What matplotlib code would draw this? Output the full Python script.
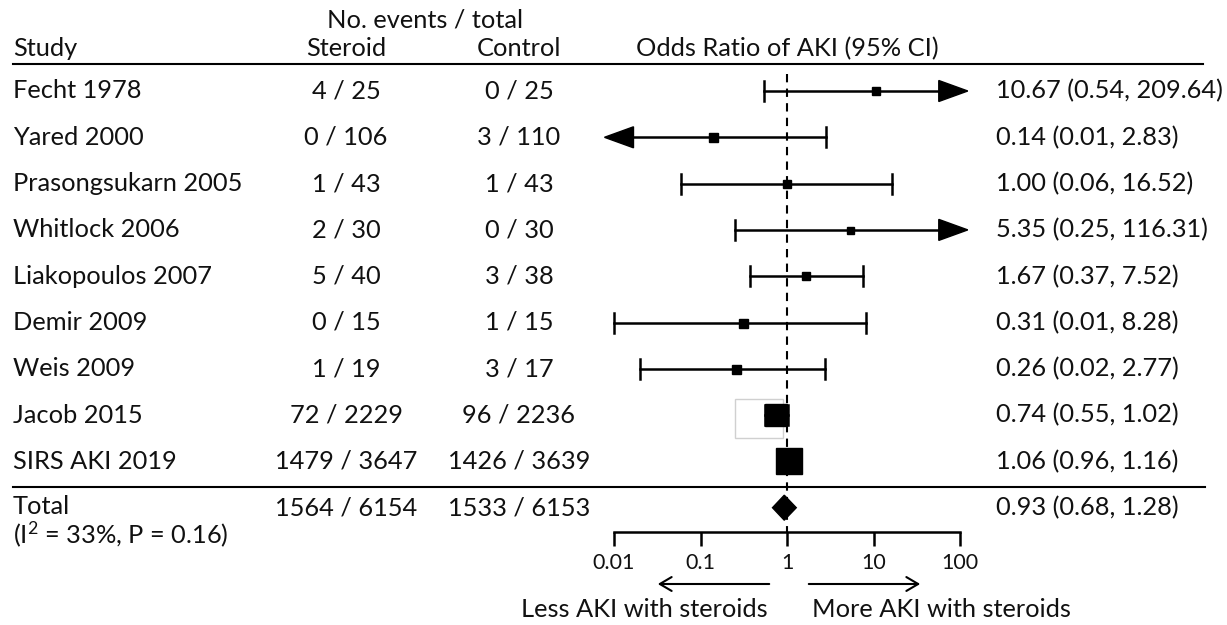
import numpy as np
import matplotlib.pyplot as plt
from matplotlib.patches import Polygon, Rectangle, FancyArrowPatch

studies = ["Fecht 1978", "Yared 2000", "Prasongsukarn 2005", "Whitlock 2006",
           "Liakopoulos 2007", "Demir 2009", "Weis 2009", "Jacob 2015",
           "SIRS AKI 2019"]
steroid_events = [4, 0, 1, 2, 5, 0, 1, 72, 1479]
steroid_total = [25, 106, 43, 30, 40, 15, 19, 2229, 3647]
control_events = [0, 3, 1, 0, 3, 1, 3, 96, 1426]
control_total = [25, 110, 43, 30, 38, 15, 17, 2236, 3639]
odds_ratio = [10.67, 0.14, 1.00, 5.35, 1.67, 0.31, 0.26, 0.74, 1.06]
ci_low = [0.54, 0.01, 0.06, 0.25, 0.37, 0.01, 0.02, 0.55, 0.96]
ci_high = [209.64, 2.83, 16.52, 116.31, 7.52, 8.28, 2.77, 1.02, 1.16]
# interval runs off the axis -> arrow instead of cap
arrow_low = [False, True, False, False, False, False, False, False, False]
arrow_high = [True, False, False, True, False, False, False, False, False]

total_steroid = (1564, 6154)
total_control = (1533, 6153)
pooled_or = 0.93
pooled_low = 0.68
pooled_high = 1.28
heterogeneity = "(I$^{2}$ = 33%, P = 0.16)"

xticks = [0.01, 0.1, 1, 10, 100]
xtick_labels = ["0.01", "0.1", "1", "10", "100"]

# marker side in pixels (study weight look)
box_px = [8, 9, 8, 7, 8, 9, 9, 23, 26]

W, H = 1227, 625
ROW0, ROWH = 91, 46.3          # pixel y of first row, row pitch
FONT = "Lato"
FS = 18.3

plt.rcParams["mathtext.fontset"] = "custom"
plt.rcParams["mathtext.rm"] = FONT
plt.rcParams["mathtext.it"] = FONT
plt.rcParams["mathtext.default"] = "rm"


def ry(py):
    return (py - ROW0) / ROWH


fig = plt.figure(figsize=(W / 100, H / 100), dpi=100)
fig.patch.set_facecolor("white")

# text layer in pixel-x / row-y coordinates
ax_t = fig.add_axes([0, 0, 1, 1])
ax_t.set_xlim(0, W)
ax_t.set_ylim(ry(H), ry(0))
ax_t.axis("off")

# forest layer: log odds ratio axis between 0.01 and 100
x_left, x_right = 614, 960
ax_f = fig.add_axes([x_left / W, 0, (x_right - x_left) / W, 1])
ax_f.set_xscale("log")
ax_f.set_xlim(0.01, 100)
ax_f.set_ylim(ry(H), ry(0))
ax_f.patch.set_alpha(0)
for s in ["top", "left", "right"]:
    ax_f.spines[s].set_visible(False)
ax_f.spines["bottom"].set_position(("data", ry(532)))
ax_f.spines["bottom"].set_linewidth(1.8)
ax_f.spines["bottom"].set_bounds(0.01, 100)
ax_f.set_xticks(xticks)
ax_f.set_xticklabels(xtick_labels)
ax_f.minorticks_off()
ax_f.tick_params(axis="x", direction="out", length=10, width=1.8, pad=5,
                 labelsize=15.5, labelfontfamily=FONT, labelcolor="#111111")
ax_f.set_yticks([])

txt = dict(fontsize=FS, family=FONT, color="#111111", va="center")

# headers
ax_t.text(425, ry(20), "No. events / total", ha="center", **txt)
ax_t.text(13, ry(49), "Study", ha="left", **txt)
ax_t.text(346, ry(49), "Steroid", ha="center", **txt)
ax_t.text(519, ry(49), "Control", ha="center", **txt)
ax_t.text(787, ry(49), "Odds Ratio of AKI (95% CI)", ha="center", **txt)
ax_t.plot([13, 1203], [ry(64), ry(64)], color="black", lw=1.5)
ax_t.plot([13, 1205], [ry(487), ry(487)], color="black", lw=1.5)

# faint box left behind Jacob 2015
ax_t.add_patch(Rectangle((735, ry(399)), 48, ry(438) - ry(399),
                         facecolor="white", edgecolor="#d0d0d0", lw=1, zorder=1))

# reference line at OR = 1
ax_f.plot([1, 1], [ry(74), ry(532)], color="black", lw=1.5,
          dashes=(4, 3), zorder=2)

cap = 10 / ROWH
head_h = 10.5 / ROWH
head_dec = 29 / 86.5
tip_hi = 10 ** 2.09
tip_lo = 10 ** -2.11

for i, name in enumerate(studies):
    ax_t.text(13, i, name, ha="left", **txt)
    ax_t.text(346, i, f"{steroid_events[i]} / {steroid_total[i]}", ha="center", **txt)
    ax_t.text(519, i, f"{control_events[i]} / {control_total[i]}", ha="center", **txt)
    ax_t.text(996, i, f"{odds_ratio[i]:.2f} ({ci_low[i]:.2f}, {ci_high[i]:.2f})",
              ha="left", **txt)

    lo, hi = ci_low[i], ci_high[i]
    if arrow_low[i]:
        base = tip_lo * 10 ** head_dec
        ax_f.add_patch(Polygon([[tip_lo, i], [base, i - head_h], [base, i + head_h]],
                               closed=True, color="black", clip_on=False, zorder=3))
        lo = base
    else:
        ax_f.plot([lo, lo], [i - cap, i + cap], color="black", lw=1.8,
                  clip_on=False, zorder=3)
    if arrow_high[i]:
        base = tip_hi / 10 ** head_dec
        ax_f.add_patch(Polygon([[tip_hi, i], [base, i - head_h], [base, i + head_h]],
                               closed=True, color="black", clip_on=False, zorder=3))
        hi = base
    else:
        ax_f.plot([hi, hi], [i - cap, i + cap], color="black", lw=1.8,
                  clip_on=False, zorder=3)
    ax_f.plot([lo, hi], [i, i], color="black", lw=1.8, clip_on=False, zorder=3)
    ax_f.plot(odds_ratio[i], i, marker="s", color="black",
              markersize=box_px[i] * 0.72, zorder=4)

# pooled estimate
n = len(studies)
dh = 12.5 / ROWH
ax_f.add_patch(Polygon([[pooled_low, n], [pooled_or, n - dh],
                        [pooled_high, n], [pooled_or, n + dh]],
                       closed=True, color="black", zorder=4))
ax_t.text(13, ry(506), "Total", ha="left", **txt)
ax_t.text(13, ry(534), heterogeneity, ha="left", **txt)
ax_t.text(346, ry(508), f"{total_steroid[0]} / {total_steroid[1]}", ha="center", **txt)
ax_t.text(519, ry(508), f"{total_control[0]} / {total_control[1]}", ha="center", **txt)
ax_t.text(996, n, f"{pooled_or:.2f} ({pooled_low:.2f}, {pooled_high:.2f})",
          ha="left", **txt)

# direction arrows
for x0, x1 in [(772, 655), (806, 923)]:
    ax_t.add_patch(FancyArrowPatch((x0, ry(584)), (x1, ry(584)),
                                   arrowstyle="->,head_length=0.85,head_width=0.5",
                                   mutation_scale=10, lw=1.5, color="black"))
ax_t.text(768, ry(609), "Less AKI with steroids", ha="right", **txt)
ax_t.text(812, ry(609), "More AKI with steroids", ha="left", **txt)

fig.savefig("out.png", dpi=100, facecolor="white")
